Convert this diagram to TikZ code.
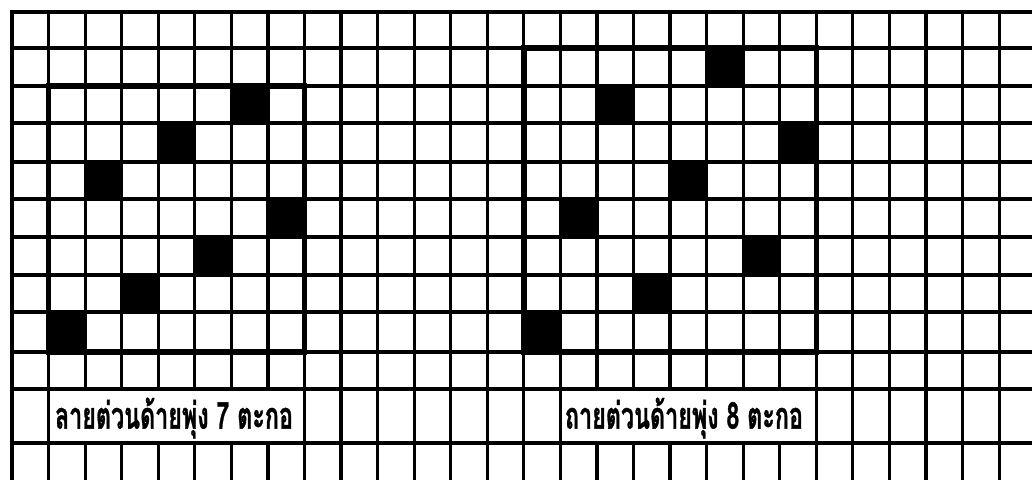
\documentclass[tikz,border=0pt]{standalone}
\usepackage{fontspec}
\usepackage{graphicx}
\newfontfamily\thaifont[Script=Thai,BoldFeatures={FakeBold=1.2}]{Loma}
\begin{document}
\begin{tikzpicture}[x=1pt,y=-1pt,
  gridline/.style={line width=3.2pt,black,line cap=rect},
  framebox/.style={line width=5.6pt,black,line cap=rect},
  lbl/.style={font=\thaifont\bfseries\fontsize{37}{37}\selectfont,inner sep=0pt}]
\useasboundingbox (0,0) rectangle (1032,479);
\def\RR{{12,48,86,123,162,199,237,275,312,352,389,443}}
\def\cw{36.56}
% black cells, 7-shaft satin
\foreach \c [count=\r] in {6,4,2,7,5,3,1} {
  \pgfmathsetmacro\xa{12+\cw*\c}
  \pgfmathsetmacro\ya{\RR[\r+1]}
  \pgfmathsetmacro\yb{\RR[\r+2]}
  \fill[black] (\xa,\ya) rectangle (\xa+\cw,\yb);
}
% black cells, 8-shaft satin
\foreach \c [count=\r] in {6,3,8,5,2,7,4,1} {
  \pgfmathsetmacro\xa{12+\cw*(\c+13)}
  \pgfmathsetmacro\ya{\RR[\r]}
  \pgfmathsetmacro\yb{\RR[\r+1]}
  \fill[black] (\xa,\ya) rectangle (\xa+\cw,\yb);
}
% grid
\foreach \j in {0,...,27} \draw[gridline] (12+\cw*\j,12) -- (12+\cw*\j,479);
\foreach \y in {12,48,86,123,162,199,237,275,312,352,389,443} \draw[gridline] (12,\y) -- (1032,\y);
% label boxes (clear inner lines)
\fill[white] (12+\cw*1+1.6,390.6) rectangle (12+\cw*8-1.6,441.4);
\fill[white] (12+\cw*15+1.6,390.6) rectangle (12+\cw*22-1.6,441.4);
% pattern frames
\draw[framebox] (12+\cw*1,86) rectangle (12+\cw*8,352);
\draw[framebox] (12+\cw*14,48) rectangle (12+\cw*22,352);
% labels
\node[lbl] (lab7) at (174,418) {\resizebox{238pt}{\height}{ลายต่วนด้ายพุ่ง 7 ตะกอ}};
\node[lbl] (lab8) at (684,418) {\resizebox{238pt}{\height}{ถายต่วนด้ายพุ่ง 8 ตะกอ}};
\end{tikzpicture}
\end{document}
